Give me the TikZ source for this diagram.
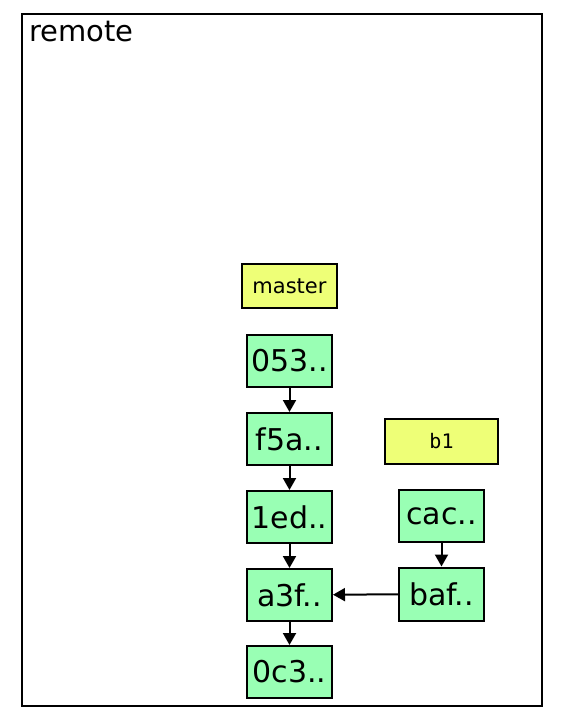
\documentclass[tikz,border=0pt]{standalone}
\usepackage{fontspec}
\setmainfont{DejaVu Sans}
\setmonofont{DejaVu Sans Mono}
\usetikzlibrary{arrows.meta}
\definecolor{commitgreen}{RGB}{153,255,180}
\definecolor{refyellow}{RGB}{238,255,119}
\begin{document}
\begin{tikzpicture}[x=1pt,y=-1pt,
  commit/.style={draw=black,line width=2pt,fill=commitgreen,minimum width=85pt,minimum height=52pt,inner sep=0pt,font=\fontsize{30}{30}\selectfont},
  branchref/.style={draw=black,line width=2pt,fill=refyellow,minimum height=44pt,inner sep=0pt},
  parent/.style={line width=2pt,-{Triangle[length=12pt,width=13pt]}}]
\useasboundingbox (0,0) rectangle (560,720);
\draw[line width=2pt] (22,14) rectangle (542,706);
\node[anchor=north west,inner sep=0pt,font=\fontsize{29}{29}\selectfont] (remote) at (29,21) {remote};
\node[branchref,minimum width=95pt,font=\fontsize{21}{21}\selectfont] (master) at (289.5,286) {master};
\node[branchref,minimum width=113pt,minimum height=45pt,font=\ttfamily\fontsize{20}{20}\selectfont] (b1) at (441.5,441.5) {b1};
\node[commit] (c053) at (289.5,361) {053..};
\node[commit] (cf5a) at (289.5,439) {f5a..};
\node[commit] (c1ed) at (289.5,517) {1ed..};
\node[commit] (ca3f) at (289.5,595) {a3f..};
\node[commit] (c0c3) at (289.5,672) {0c3..};
\node[commit] (ccac) at (441.5,516) {cac..};
\node[commit,minimum height=53pt] (cbaf) at (441.5,594) {baf..};
\draw[parent] (c053) -- (cf5a);
\draw[parent] (cf5a) -- (c1ed);
\draw[parent] (c1ed) -- (ca3f);
\draw[parent] (ca3f) -- (c0c3);
\draw[parent] (ccac) -- (cbaf);
\draw[parent] (cbaf) -- (ca3f);
\end{tikzpicture}
\end{document}
